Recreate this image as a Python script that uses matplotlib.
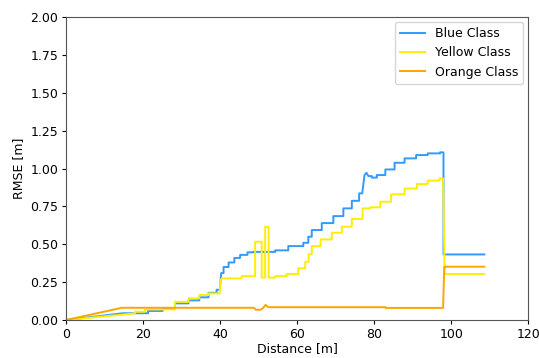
import matplotlib
matplotlib.use('Agg')
import matplotlib.pyplot as plt

# RMSE vs distance for each class
blue_x = [0, 14.8, 21.3, 21.3, 25.1, 25.1, 28.3, 28.3, 31.8, 31.8, 34.6, 34.6, 37.0, 37.0,
          39.1, 39.1, 40.0, 40.0, 40.3, 40.9, 40.9, 42.2, 42.2, 43.7, 43.7, 45.2, 45.2,
          47.1, 47.1, 48.7, 48.7, 54.3, 54.3, 57.7, 57.7, 61.6, 61.6, 62.9, 62.9, 63.8,
          63.8, 66.4, 66.4, 69.4, 69.4, 72.0, 72.0, 74.2, 74.2, 76.1, 76.1, 76.9, 77.5,
          78.0, 78.5, 79.4, 79.4, 80.7, 80.7, 82.9, 82.9, 85.3, 85.3, 87.9, 87.9, 90.9,
          90.9, 93.9, 93.9, 97.1, 97.1, 98.0, 98.0, 108.6]
blue_y = [0, 0.045, 0.045, 0.06, 0.06, 0.077, 0.077, 0.11, 0.11, 0.13, 0.13, 0.15, 0.15, 0.18,
          0.18, 0.20, 0.20, 0.23, 0.31, 0.31, 0.35, 0.35, 0.38, 0.38, 0.41, 0.41, 0.43,
          0.43, 0.447, 0.447, 0.45, 0.45, 0.46, 0.46, 0.488, 0.488, 0.51, 0.51, 0.55, 0.55,
          0.594, 0.594, 0.64, 0.64, 0.686, 0.686, 0.737, 0.737, 0.787, 0.787, 0.836, 0.836, 0.957,
          0.972, 0.95, 0.95, 0.94, 0.94, 0.957, 0.957, 0.994, 0.994, 1.038, 1.038, 1.067, 1.067,
          1.089, 1.089, 1.10, 1.10, 1.107, 1.107, 0.433, 0.433]

yellow_x = [0, 17.9, 17.9, 20.5, 20.5, 28.3, 28.3, 31.8, 31.8, 34.6, 34.6, 37.0, 37.0, 39.9,
            40.1, 40.5, 45.6, 45.6, 49.1, 49.1, 50.8, 50.8, 51.7, 51.7, 52.6, 52.6, 54.3,
            54.3, 57.3, 57.3, 60.3, 60.3, 62.1, 62.1, 63.0, 63.0, 63.8, 63.8, 66.1, 66.1,
            69.0, 69.0, 71.6, 71.6, 74.2, 74.2, 77.0, 77.0, 79.0, 79.0, 81.6, 81.6, 84.4,
            84.4, 87.9, 87.9, 91.1, 91.1, 93.9, 93.9, 97.0, 97.0, 97.9, 98.3, 108.6]
yellow_y = [0, 0.044, 0.055, 0.055, 0.07, 0.07, 0.12, 0.12, 0.143, 0.143, 0.165, 0.165, 0.176, 0.176,
            0.265, 0.275, 0.275, 0.29, 0.29, 0.517, 0.517, 0.28, 0.28, 0.616, 0.616, 0.28, 0.28,
            0.29, 0.29, 0.304, 0.304, 0.341, 0.341, 0.385, 0.385, 0.434, 0.434, 0.488, 0.488, 0.532,
            0.532, 0.576, 0.576, 0.616, 0.616, 0.667, 0.667, 0.737, 0.737, 0.744, 0.744, 0.781, 0.781,
            0.83, 0.83, 0.868, 0.868, 0.898, 0.898, 0.92, 0.92, 0.935, 0.935, 0.304, 0.304]

orange_x = [0, 14.5, 48.8, 49.3, 50.5, 51.2, 51.8, 52.5, 60.0, 83.0, 83.0, 97.9, 98.2, 108.6]
orange_y = [0, 0.081, 0.081, 0.068, 0.068, 0.08, 0.10, 0.085, 0.085, 0.085, 0.08, 0.08, 0.352, 0.352]

fig = plt.figure(figsize=(5.39, 3.58), dpi=100)
ax = fig.add_axes([0.1225, 0.106, 0.8575, 0.8465])

ax.plot(blue_x, blue_y, color='#3399ff', lw=1.4, label='Blue Class')
ax.plot(yellow_x, yellow_y, color='#ffee00', lw=1.4, label='Yellow Class')
ax.plot(orange_x, orange_y, color='#ffa500', lw=1.4, label='Orange Class')

ax.set_xlim(0, 120)
ax.set_ylim(0, 2.0)
ax.set_yticks([0, 0.25, 0.5, 0.75, 1.0, 1.25, 1.5, 1.75, 2.0])
ax.set_xlabel('Distance [m]', fontsize=9, labelpad=1)
ax.set_ylabel('RMSE [m]', fontsize=9)
ax.tick_params(labelsize=9, length=3, pad=2.5)
for s in ax.spines.values():
    s.set_color('#555555')
ax.legend(loc='upper right', fontsize=9, borderaxespad=0.4)

fig.savefig('out.png', dpi=100)
